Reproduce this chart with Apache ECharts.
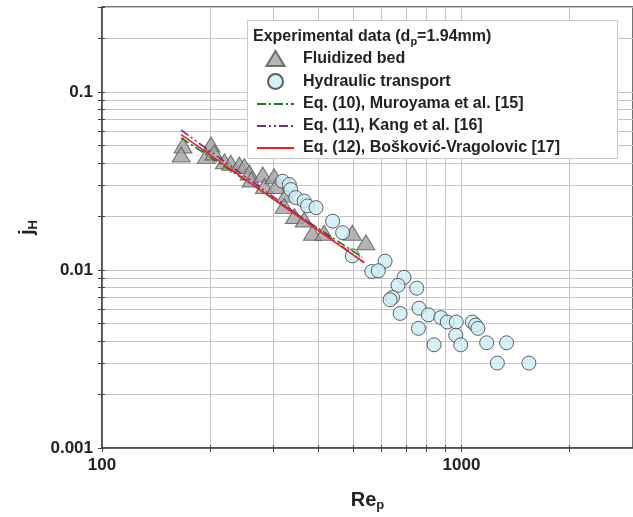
<!DOCTYPE html>
<html>
<head>
<meta charset="utf-8">
<script src="https://cdn.jsdelivr.net/npm/echarts@6/dist/echarts.min.js"></script>
<style>
  html, body { margin: 0; padding: 0; background: #fff; }
  #chart { width: 633px; height: 517px; }
</style>
</head>
<body>
<div id="chart"></div>
<script>
// Re_p, j_H pairs
const fluidizedBed = [
  [168, 0.0500], [166, 0.0445], [201, 0.0507], [195, 0.0436], [205, 0.0457],
  [219, 0.0408], [228, 0.0400], [241, 0.0391], [249, 0.0383], [257, 0.0353],
  [260, 0.0322], [280, 0.0344], [283, 0.0296], [301, 0.0336], [305, 0.0296],
  [325, 0.0265], [321, 0.0229], [343, 0.0201], [365, 0.0192], [385, 0.0162],
  [415, 0.0162], [497, 0.0162], [542, 0.0143]
];
const hydraulicTransport = [
  [318, 0.0315], [332, 0.0302], [335, 0.0283], [346, 0.0255], [365, 0.0244],
  [373, 0.0229], [394, 0.0224], [438, 0.0188], [467, 0.0162], [497, 0.0120],
  [613, 0.0112], [563, 0.0098], [587, 0.0099], [692, 0.0091], [666, 0.0082],
  [751, 0.0079], [643, 0.0070], [633, 0.0068], [762, 0.0061], [675, 0.0057],
  [809, 0.0056], [876, 0.0054], [913, 0.0051], [967, 0.0051], [759, 0.0047],
  [1072, 0.0051], [1095, 0.0049], [1111, 0.0047], [964, 0.0043], [995, 0.0038],
  [839, 0.0038], [1175, 0.0039], [1335, 0.0039], [1258, 0.0030], [1540, 0.0030]
];
const muroyama = [[166, 0.0552], [529, 0.0118]];
const kang = [[166, 0.0610], [536, 0.0110]];
const boskovic = [[166, 0.0576], [536, 0.0110]];

const xRange = [100, 3000];
const yRange = [0.001, 0.3];

const FONT = "'Liberation Sans', Arial, sans-serif";
const gridColor = '#c4c4c4';
const axisColor = '#444';

const chart = echarts.init(document.getElementById('chart'));

function mainAxis(range, extra) {
  return Object.assign({
    type: 'log',
    logBase: 10,
    min: range[0],
    max: range[1],
    axisLine: { show: true, lineStyle: { color: axisColor, width: 1.5 } },
    axisTick: { show: true, length: 4, lineStyle: { color: axisColor } },
    minorTick: { show: true, splitNumber: 9, length: 4, lineStyle: { color: axisColor } },
    splitLine: { show: true, lineStyle: { color: gridColor, width: 1 } },
    minorSplitLine: { show: true, lineStyle: { color: gridColor, width: 1 } },
    axisLabel: {
      show: true, color: '#222', fontSize: 17, fontWeight: 'bold', fontFamily: FONT,
      margin: 9, showMaxLabel: false,
      formatter: v => String(v)
    }
  }, extra);
}

// second axis on the same edge, only to draw the inner half of the ticks
function tickAxis(range, extra) {
  return Object.assign({
    type: 'log',
    logBase: 10,
    min: range[0],
    max: range[1],
    axisLine: { show: false },
    axisTick: { show: true, length: 4, lineStyle: { color: axisColor } },
    minorTick: { show: true, splitNumber: 9, length: 4, lineStyle: { color: axisColor } },
    splitLine: { show: false },
    minorSplitLine: { show: false },
    axisLabel: { show: false }
  }, extra);
}

const noSymbol = { opacity: 0 };

const option = {
  animation: false,
  backgroundColor: '#fff',
  grid: {
    left: 102, top: 7, width: 532, height: 442,
    show: true, borderColor: axisColor, borderWidth: 1.5, backgroundColor: 'transparent'
  },
  xAxis: [
    mainAxis(xRange, {
      position: 'bottom',
      name: '{a|Re}{s|p}',
      nameLocation: 'middle',
      nameGap: 40,
      nameTextStyle: {
        rich: {
          a: { fontSize: 20, fontWeight: 'bold', fontFamily: FONT, color: '#222', lineHeight: 24 },
          s: { fontSize: 13, fontWeight: 'bold', fontFamily: FONT, color: '#222', verticalAlign: 'bottom', lineHeight: 13 }
        }
      }
    }),
    tickAxis(xRange, { position: 'top', offset: -442 })
  ],
  yAxis: [
    mainAxis(yRange, {
      position: 'left',
      name: '{a|j}{s|H}',
      nameLocation: 'middle',
      nameRotate: 90,
      nameGap: 57,
      nameTextStyle: {
        rich: {
          a: { fontSize: 20, fontWeight: 'bold', fontFamily: FONT, color: '#222', lineHeight: 24 },
          s: { fontSize: 13, fontWeight: 'bold', fontFamily: FONT, color: '#222', verticalAlign: 'bottom', lineHeight: 13 }
        }
      }
    }),
    tickAxis(yRange, { position: 'right', offset: -532 })
  ],
  legend: {
    data: [
      { name: 'Fluidized bed', icon: 'path://M0,14L8.5,0L17,14Z' },
      { name: 'Hydraulic transport' },
      { name: 'Eq. (10), Muroyama et al. [15]', itemStyle: noSymbol },
      { name: 'Eq. (11), Kang et al. [16]', itemStyle: noSymbol },
      { name: 'Eq. (12), Bošković-Vragolovic [17]', itemStyle: noSymbol }
    ],
    orient: 'vertical', left: 256, top: 50, padding: 0,
    itemWidth: 37, itemHeight: 15, itemGap: 6, symbolKeepAspect: true,
    textStyle: { fontSize: 16, fontWeight: 'bold', fontFamily: FONT, color: '#222', padding: [0, 0, 0, 4] }
  },
  graphic: [
    {
      type: 'rect', z: 3,
      shape: { x: 247.5, y: 20.5, width: 370, height: 138 },
      style: { fill: '#fff', stroke: '#c8c8c8', lineWidth: 1 }
    },
    {
      type: 'text', z: 4, left: 253, top: 29,
      style: {
        text: '{a|Experimental data (d}{s|p}{a|=1.94mm)}',
        rich: {
          a: { fontSize: 16, fontWeight: 'bold', fontFamily: FONT, fill: '#222', lineHeight: 20 },
          s: { fontSize: 11, fontWeight: 'bold', fontFamily: FONT, fill: '#222', verticalAlign: 'bottom', lineHeight: 11 }
        }
      }
    }
  ],
  series: [
    {
      name: 'Fluidized bed', type: 'scatter', data: fluidizedBed,
      symbol: 'triangle', symbolSize: [18, 15],
      itemStyle: { color: '#a3a3a3', borderColor: '#555', borderWidth: 1 },
      z: 2
    },
    {
      name: 'Hydraulic transport', type: 'scatter', data: hydraulicTransport,
      symbol: 'circle', symbolSize: 14,
      itemStyle: { color: '#cdeef7', borderColor: '#3a3a3a', borderWidth: 1 },
      z: 3
    },
    {
      name: 'Eq. (10), Muroyama et al. [15]', type: 'line', data: muroyama,
      showSymbol: false, symbol: 'none',
      lineStyle: { color: '#1a7a1a', width: 1.6, type: [9, 3, 2, 3] },
      z: 4
    },
    {
      name: 'Eq. (11), Kang et al. [16]', type: 'line', data: kang,
      showSymbol: false, symbol: 'none',
      lineStyle: { color: '#7a2a8a', width: 1.6, type: [9, 3, 2, 3, 2, 3] },
      z: 5
    },
    {
      name: 'Eq. (12), Bošković-Vragolovic [17]', type: 'line', data: boskovic,
      showSymbol: false, symbol: 'none',
      lineStyle: { color: '#ff1a1a', width: 1.6 },
      z: 6
    }
  ]
};

chart.setOption(option);
</script>
</body>
</html>
